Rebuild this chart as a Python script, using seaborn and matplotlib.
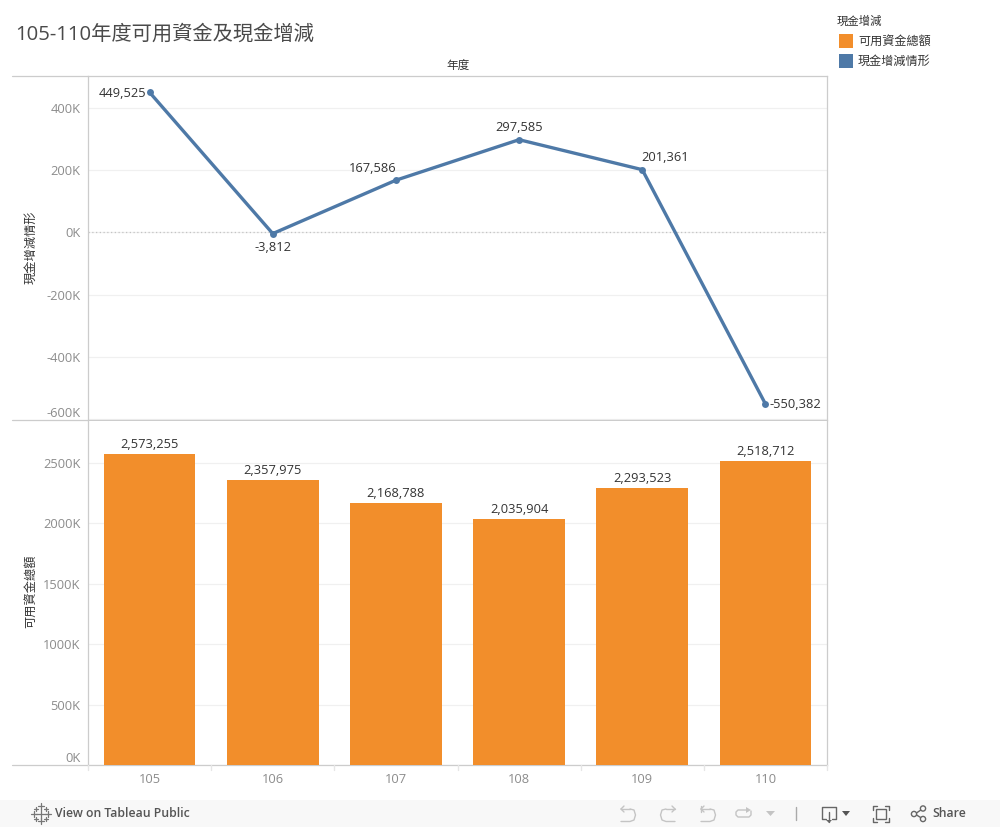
import seaborn as sns
import pandas as pd
import matplotlib.pyplot as plt
from matplotlib.patches import Rectangle, Circle, Polygon
from matplotlib.transforms import ScaledTranslation

# 數據
years = ['105', '106', '107', '108', '109', '110']
cash_change = [449525, -3812, 167586, 297585, 201361, -550382]
total_funds = [2573255, 2357975, 2168788, 2035904, 2293523, 2518712]
top_ticks = [400000, 200000, 0, -200000, -400000, -600000]
bottom_ticks = [0, 500000, 1000000, 1500000, 2000000, 2500000]

sns.set_theme(style='white')
plt.rcParams['font.family'] = ['Open Sans', 'Noto Sans CJK TC', 'DejaVu Sans']
plt.rcParams['axes.unicode_minus'] = False

ORANGE = '#f28e2b'
BLUE = '#4e79a7'
GRID = '#f0f0f0'
EDGE = '#cccccc'
TICK = '#8c8c8c'
DARK = '#333333'

data = pd.DataFrame({'year': years, 'cash': cash_change, 'funds': total_funds})

W, H = 1000, 827
fig = plt.figure(figsize=(10, 8.27), dpi=100)


def axes_px(x0, y0, x1, y1):
    return fig.add_axes([x0 / W, 1 - y1 / H, (x1 - x0) / W, (y1 - y0) / H])


def lift_label(label, pixels):
    # 貼邊的刻度標籤往上移
    label.set_transform(label.get_transform() + ScaledTranslation(0, pixels / 100, fig.dpi_scale_trans))


top = axes_px(88, 76, 827, 420)
bottom = axes_px(88, 421, 827, 765)

# 現金增減折線
sns.lineplot(data=data, x='year', y='cash', ax=top, color=BLUE, linewidth=2.4,
             marker='o', markersize=5, markeredgewidth=0, zorder=3)
top.set_xlim(-0.5, 5.5)
top.set_ylim(-602000, 502000)
top.set_yticks(top_ticks)
top.set_yticklabels(['400K', '200K', '0K', '-200K', '-400K', '-600K'])
top.set_xticks([])
top.set_xlabel('')
top.set_ylabel('現金增減情形', fontsize=8.8, color=DARK)
top.yaxis.set_label_coords(-0.069, 0.503)
top.grid(axis='y', color=GRID, linewidth=0.9)
top.axhline(0, color='#c4c4c4', linewidth=0.9, linestyle=(0, (1, 2)), zorder=1)

top_offsets = [(-27, -1), (0, -14), (-23, 12), (0, 12), (23, 12), (30, -1)]
for i, v in enumerate(cash_change):
    top.annotate(f'{v:,}', (i, v), xytext=top_offsets[i], textcoords='offset pixels',
                 ha='center', va='center', fontsize=9.3, color=DARK)

# 可用資金長條
sns.barplot(data=data, x='year', y='funds', ax=bottom, color=ORANGE, width=0.745,
            saturation=1, linewidth=0, zorder=3)
bottom.set_xlim(-0.5, 5.5)
bottom.set_ylim(0, 2846000)
bottom.set_yticks(bottom_ticks)
bottom.set_yticklabels(['0K', '500K', '1000K', '1500K', '2000K', '2500K'])
bottom.set_xlabel('')
bottom.set_ylabel('可用資金總額', fontsize=8.8, color=DARK)
bottom.yaxis.set_label_coords(-0.069, 0.504)
bottom.grid(axis='y', color=GRID, linewidth=0.9)
bottom.set_axisbelow(True)
bottom.tick_params(axis='x', length=0, pad=6, labelsize=9.3, labelcolor=TICK)

for i, v in enumerate(total_funds):
    bottom.annotate(f'{v:,}', (i, v), xytext=(0, 9), textcoords='offset pixels',
                    ha='center', va='center', fontsize=9.3, color=DARK)

for ax in (top, bottom):
    ax.tick_params(axis='y', length=0, pad=5.5, labelsize=9.3, labelcolor=TICK)
    for spine in ax.spines.values():
        spine.set_color(EDGE)
        spine.set_linewidth(0.9)
bottom.spines['top'].set_visible(False)

lift_label(top.get_yticklabels()[-1], 7)
lift_label(bottom.get_yticklabels()[0], 8)

# 版面與工具列
over = fig.add_axes([0, 0, 1, 1], facecolor='none', zorder=5)
over.set_xlim(0, W)
over.set_ylim(H, 0)
over.axis('off')

for y in (76, 420, 765):
    over.plot([12, 88], [y, y], color=EDGE, lw=0.9)
for i in range(7):
    x = 88 + i * 739 / 6
    over.plot([x, x], [765, 770], color='#e6e6e6', lw=1)

over.text(15, 34.5, '105-110年度可用資金及現金增減', fontsize=14.6, color='#4a4a4a', va='center')
over.text(458, 65.5, '年度', fontsize=8.4, color=DARK, ha='center', va='center')

# 圖例
over.text(837, 22, '現金增減', fontsize=8.2, color=DARK, va='center')
legend_items = [('可用資金總額', ORANGE, 41), ('現金增減情形', BLUE, 61)]
for name, color, y in legend_items:
    over.add_patch(Rectangle((839, y - 7), 14, 14, color=color, lw=0))
    over.text(858, y + 0.5, name, fontsize=8.7, color=DARK, va='center')

# 底部工具列
over.add_patch(Rectangle((0, 800), W, 27, color='#f8f8f8', lw=0, zorder=0))
over.text(55, 813.5, 'View on Tableau Public', fontsize=8.8, color='#555555',
          va='center', fontweight='semibold')
over.text(932, 813.5, 'Share', fontsize=8.8, color='#555555', va='center',
          fontweight='semibold')

# Tableau 標誌
for cx, cy, r in [(41, 813.5, 5), (41, 806, 3), (41, 821, 3), (34, 813.5, 3), (48, 813.5, 3),
                  (36, 808.5, 2), (46, 808.5, 2), (36, 818.5, 2), (46, 818.5, 2)]:
    over.plot([cx - r, cx + r], [cy, cy], color='#777777', lw=0.9)
    over.plot([cx, cx], [cy - r, cy + r], color='#777777', lw=0.9)

# 復原 / 重做圖示
ICON = '#c4c4c4'
for x0, sign in [(628, 1), (668, -1), (708, 1)]:
    over.plot([x0 - 7 * sign, x0 + 2 * sign], [809, 809], color=ICON, lw=1)
    over.plot([x0 - 7 * sign, x0 - 4 * sign], [809, 806], color=ICON, lw=1)
    over.plot([x0 - 7 * sign, x0 - 4 * sign], [809, 812], color=ICON, lw=1)
    over.plot([x0 + 2 * sign, x0 + 6 * sign, x0 + 7.5 * sign, x0 + 6 * sign, x0 + 2 * sign, x0 - 7 * sign],
              [809, 810, 815, 820, 821.5, 821.5], color=ICON, lw=1)
over.plot([701, 701], [806, 812], color=ICON, lw=1)

# 重新整理圖示
over.plot([748, 738, 736, 736, 738, 749, 751, 751],
          [810, 810, 812, 815, 817, 817, 815, 811], color=ICON, lw=1)
over.add_patch(Polygon([(746, 807), (746, 813), (751, 810)], color=ICON, lw=0))
over.add_patch(Polygon([(766, 811), (775, 811), (770.5, 816)], color='#c4c4c4', lw=0))
over.plot([796, 796], [807, 820], color='#aaaaaa', lw=1)

# 下載圖示
over.plot([826, 822, 822, 836, 836, 832], [819, 819, 807, 807, 819, 819], color='#666666', lw=1)
over.plot([829, 829], [812, 822], color='#666666', lw=1)
over.add_patch(Polygon([(826, 820), (832, 820), (829, 823)], color='#666666', lw=0))
over.add_patch(Polygon([(842, 811), (850, 811), (846, 816)], color='#555555', lw=0))

# 全螢幕圖示
over.add_patch(Rectangle((876, 809), 10, 10, fill=False, ec='#666666', lw=1))
for xs, ys in [([873, 873, 877], [810, 806, 806]), ([885, 889, 889], [806, 806, 810]),
               ([873, 873, 877], [818, 822, 822]), ([885, 889, 889], [822, 822, 818])]:
    over.plot(xs, ys, color='#666666', lw=1)

# 分享圖示
over.plot([915, 923], [814, 808.5], color='#666666', lw=1)
over.plot([915, 923], [814, 819], color='#666666', lw=1)
for cx, cy in [(914, 814), (923, 808.5), (923, 819)]:
    over.add_patch(Circle((cx, cy), 2.6, fc='#f8f8f8', ec='#666666', lw=1, zorder=3))

fig.savefig('out.png', dpi=100)
